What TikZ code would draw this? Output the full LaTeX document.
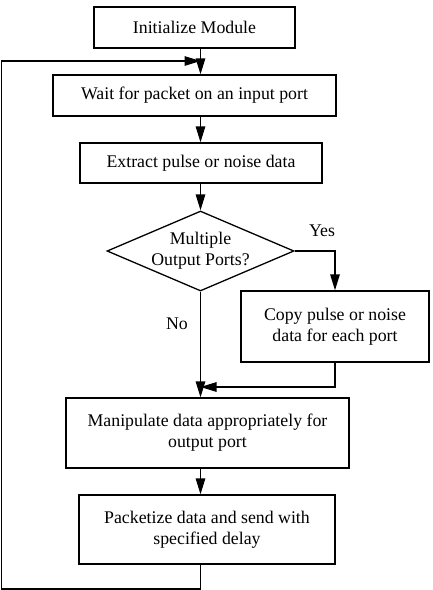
\documentclass[tikz,border=0pt]{standalone}
\usepackage{fontspec}
\setmainfont{Liberation Serif}
\usetikzlibrary{shapes.geometric,arrows.meta}
\begin{document}
\begin{tikzpicture}[x=1pt,y=-1pt,
  txt/.style={font=\fontsize{17.8}{21}\selectfont},
  box/.style={txt,draw,line width=1.3pt,inner sep=0pt,align=center},
  arr/.style={line width=1.3pt,-{Triangle[length=16pt,width=9.5pt]}},
  ln/.style={line width=1.3pt}]
\useasboundingbox (0,0) rectangle (432,590);
\node[box,minimum width=201pt,minimum height=41pt] (init) at (194.5,27.5) {Initialize Module};
\node[box,minimum width=283pt,minimum height=41pt] (wait) at (194.5,95.5) {Wait for packet on an input port};
\node[box,minimum width=242pt,minimum height=40pt] (extr) at (201,163) {Extract pulse or noise data};
\node[box,diamond,aspect=2.34,minimum width=187pt,minimum height=80pt] (dec) at (200.5,251) {Multiple\\Output Ports?};
\node[box,minimum width=188pt,minimum height=71pt] (copy) at (335,326.5) {Copy pulse or noise\\data for each port};
\node[box,minimum width=283pt,minimum height=70pt] (manip) at (207.5,433) {Manipulate data appropriately for\\output port};
\node[box,minimum width=256pt,minimum height=69pt] (pack) at (207,529.5) {Packetize data and send with\\specified delay};
\node[txt] (yes) at (322,231) {Yes};
\node[txt] (no) at (177,324) {No};
\coordinate (lb) at (1.5,589);
\coordinate (lt) at (1.5,61);
\coordinate (m) at (0,387);
\draw[arr] (init.south -| dec.center) -- (wait.north -| dec.center);
\draw[arr] (wait.south -| dec.center) -- (extr.north -| dec.center);
\draw[arr] (extr.south -| dec.center) -- (dec.north);
\draw[arr] (dec.east) -| (copy.north);
\draw[arr] (dec.south) -- (manip.north -| dec.center);
\draw[arr] (copy.south) -- (copy.south |- m) -- (m -| dec.center);
\draw[arr] (manip.south -| dec.center) -- (pack.north -| dec.center);
\draw[arr] (pack.south -| dec.center) -- (lb -| dec.center) -- (lb) -- (lt) -- (lt -| dec.center);
\end{tikzpicture}
\end{document}
